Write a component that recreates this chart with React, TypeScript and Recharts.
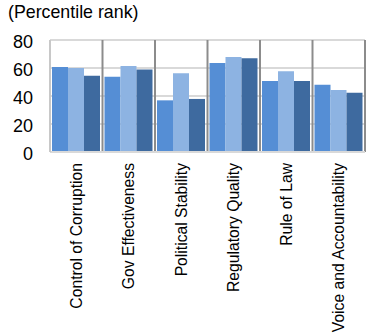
import { BarChart, Bar, XAxis, YAxis, CartesianGrid } from 'recharts'

const categories = [
  'Control of Corruption',
  'Gov Effectiveness',
  'Political Stability',
  'Regulatory Quality',
  'Rule of Law',
  'Voice and Accountability',
]
const seriesA = [60.7, 53.8, 36.9, 63.6, 50.7, 48.1]
const seriesB = [60.0, 61.4, 56.2, 67.9, 57.6, 44.3]
const seriesC = [54.5, 59.0, 37.9, 66.9, 50.7, 42.4]
const yTicks = [0, 20, 40, 60, 80]

const data = categories.map((name, i) => ({
  name,
  a: seriesA[i],
  b: seriesB[i],
  c: seriesC[i],
}))

const FONT = 'Arial, "Liberation Sans", sans-serif'

// vertical category labels, top-aligned just under the axis
function CategoryTick({ x, y, payload }: any) {
  const top = y + 11
  return (
    <text
      x={x}
      y={top}
      transform={`rotate(-90, ${x}, ${top})`}
      textAnchor="end"
      dominantBaseline="central"
      fontFamily={FONT}
      fontSize={15.7}
      fill="#000"
    >
      {payload.value}
    </text>
  )
}

function ValueTick({ x, y, payload }: any) {
  return (
    <text x={x - 17} y={y + 2} textAnchor="end" dominantBaseline="central" fontFamily={FONT} fontSize={18} fill="#000">
      {payload.value}
    </text>
  )
}

export default function App() {
  return (
    <div style={{ position: 'absolute', left: 0, top: 0, width: 366, height: 335, background: '#fff' }}>
      <div style={{ position: 'absolute', left: 8, top: 2, fontFamily: FONT, fontSize: 17.8, color: '#000', whiteSpace: 'nowrap' }}>
        (Percentile rank)
      </div>
      <BarChart
        width={366}
        height={335}
        data={data}
        margin={{ top: 40, right: 1, left: 0, bottom: 0 }}
        barCategoryGap={2}
        barGap={0}
      >
        <CartesianGrid horizontal vertical={false} stroke="#d9d9d9" strokeWidth={2} />
        <CartesianGrid
          horizontal={false}
          vertical
          stroke="#8c8c8c"
          strokeWidth={2}
          verticalCoordinatesGenerator={({ offset }: any) =>
            categories.map((_, i) => offset.left + ((i + 1) * offset.width) / categories.length)
          }
        />
        <XAxis
          dataKey="name"
          interval={0}
          height={183}
          tickLine={false}
          tickSize={0}
          tickMargin={0}
          axisLine={{ stroke: '#d9d9d9', strokeWidth: 2 }}
          tick={<CategoryTick />}
        />
        <YAxis
          width={50}
          domain={[0, 80]}
          ticks={yTicks}
          tickLine={false}
          tickSize={0}
          tickMargin={0}
          axisLine={{ stroke: '#c8c8c8', strokeWidth: 2 }}
          tick={<ValueTick />}
        />
        <Bar dataKey="a" fill="#558ed5" isAnimationActive={false} />
        <Bar dataKey="b" fill="#8db3e2" isAnimationActive={false} />
        <Bar dataKey="c" fill="#3e6a9f" isAnimationActive={false} />
      </BarChart>
    </div>
  )
}
